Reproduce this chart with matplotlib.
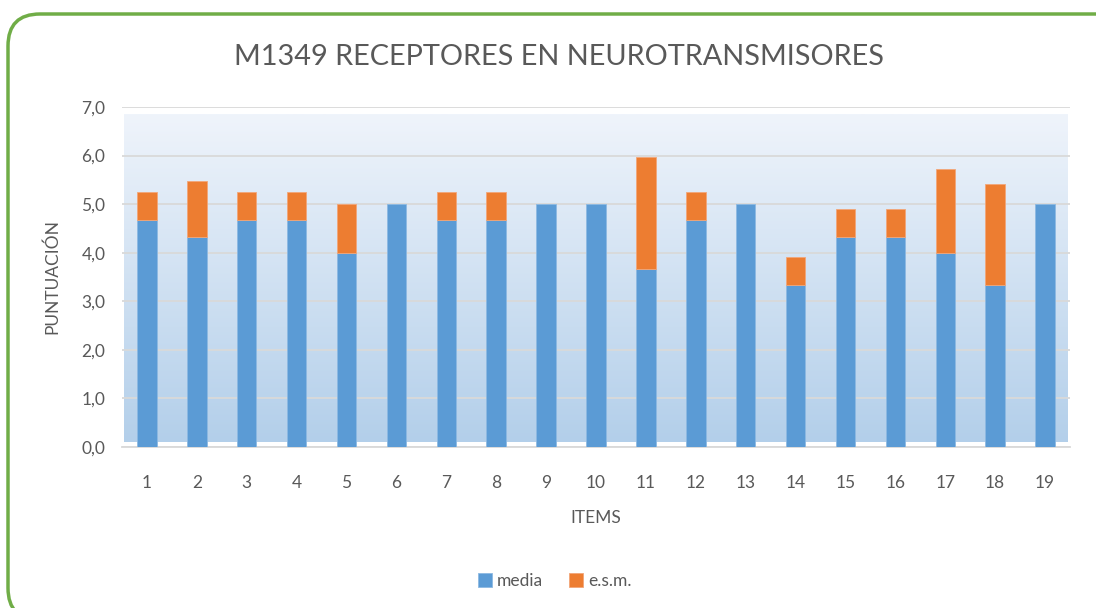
import numpy as np
import matplotlib.pyplot as plt
from matplotlib.patches import FancyBboxPatch
from matplotlib.transforms import IdentityTransform
from matplotlib.colors import LinearSegmentedColormap

items = [str(i) for i in range(1, 20)]
media = [4.67, 4.33, 4.67, 4.67, 4.00, 5.00, 4.67, 4.67, 5.00, 5.00,
         3.67, 4.67, 5.00, 3.33, 4.33, 4.33, 4.00, 3.33, 5.00]
esm = [0.58, 1.15, 0.58, 0.58, 1.00, 0.00, 0.58, 0.58, 0.00, 0.00,
       2.31, 0.58, 0.00, 0.58, 0.58, 0.58, 1.73, 2.08, 0.00]

plt.rcParams['font.family'] = ['Lato', 'DejaVu Sans']
gris = '#595959'

fig = plt.figure(figsize=(10.96, 6.08), dpi=100)
ax = fig.add_axes([122/1096, 1-447/608, (1070-122)/1096, (447-107)/608])

# marco verde redondeado (en pixeles)
marco = FancyBboxPatch((8, -12), 1122, 606,
                       boxstyle='round,pad=0,rounding_size=32',
                       transform=IdentityTransform(), fill=False,
                       edgecolor='#70AD47', linewidth=2.5)
fig.patches.append(marco)

x = np.arange(len(items))
# fondo degradado
grad = np.linspace(0, 1, 256).reshape(-1, 1)
cmap = LinearSegmentedColormap.from_list('fondo', ['#B3CFEA', '#EFF4FB'])
ax.imshow(grad, cmap=cmap, aspect='auto', origin='lower',
          extent=(-0.45, len(items) - 0.55, 0.1, 6.85), zorder=0)

ax.set_xlim(-0.5, len(items) - 0.5)
ax.set_ylim(0, 7)
ax.set_yticks(np.arange(0, 8, 1))
ax.set_yticklabels([f'{v:.1f}'.replace('.', ',') for v in range(8)])
ax.grid(axis='y', color='#D9D9D9', linewidth=1.3, zorder=1)
ax.set_axisbelow(True)

ax.bar(x, media, width=0.39, color='#5B9BD5', edgecolor='#8DB9E2', linewidth=0.6,
       label='media', zorder=3)
bordes = ['#F2A679' if e > 0 else 'none' for e in esm]
ax.bar(x, esm, width=0.39, bottom=media, color='#ED7D31', edgecolor=bordes,
       linewidth=0.6, label='e.s.m.', zorder=3)

ax.set_xticks(x)
ax.set_xticklabels(items)
for s in ['top', 'right', 'left']:
    ax.spines[s].set_visible(False)
ax.spines['bottom'].set_color('#D9D9D9')
ax.spines['bottom'].set_linewidth(1.3)
ax.tick_params(length=0, labelsize=12.5, colors=gris)
ax.tick_params(axis='x', pad=20)
ax.tick_params(axis='y', pad=12)

ax.set_xlabel('ITEMS', fontsize=12.5, color=gris, labelpad=14)
ax.set_ylabel('PUNTUACIÓN', fontsize=12.5, color=gris, labelpad=15)
fig.text(559/1096, 1-57/608, 'M1349 RECEPTORES EN NEUROTRANSMISORES',
         ha='center', va='center', fontsize=20.8, color=gris)

ax.legend(loc='center', bbox_to_anchor=(555/1096, 1-581/608),
          bbox_transform=fig.transFigure, ncol=2, frameon=False,
          fontsize=12.5, labelcolor=gris, handlelength=0.8, handleheight=0.8,
          handletextpad=0.3, columnspacing=1.5)

fig.savefig('out.png', dpi=100)
